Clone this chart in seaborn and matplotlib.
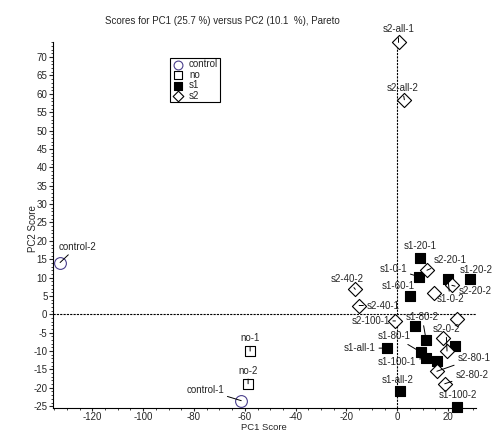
import matplotlib
matplotlib.use("Agg")
import matplotlib.pyplot as plt
import seaborn as sns
import pandas as pd
from matplotlib.ticker import MultipleLocator

# ---- data ----
control_names = ["control-1", "control-2"]
control_pc1 = [-61.4, -132.7]
control_pc2 = [-23.5, 14.1]

no_names = ["no-1", "no-2"]
no_pc1 = [-57.9, -58.7]
no_pc2 = [-10.0, -18.9]

s1_names = ["s1-20-1", "s1-0-1", "s1-20-2", "s1-0-2", "s1-60-1", "s1-40-1", "s1-80-2",
            "s1-40-2", "s1-all-1", "s1-80-1", "s1-100-1", "s1-60-2", "s1-all-2", "s1-100-2"]
s1_pc1 = [9.1, 8.7, 28.5, 20.0, 5.1, 7.1, 11.4, 22.8, -4.1, 9.3, 11.4, 15.6, 0.9, 23.7]
s1_pc2 = [15.3, 10.2, 9.5, 9.5, 4.9, -3.3, -7.1, -8.7, -9.2, -10.3, -11.9, -12.8, -20.9, -25.2]

s2_names = ["s2-all-1", "s2-all-2", "s2-20-1", "s2-20-2", "s2-0-1", "s2-40-2", "s2-40-1",
            "s2-100-1", "s2-60-1", "s2-60-2", "s2-0-2", "s2-80-1", "s2-80-2"]
s2_pc1 = [0.5, 2.8, 11.7, 21.5, 14.3, -16.5, -15.0, -0.7, 23.5, 18.2, 19.6, 15.6, 18.7]
s2_pc2 = [74.0, 58.4, 12.0, 7.9, 5.9, 6.8, 2.4, -1.8, -1.3, -6.5, -10.0, -15.5, -18.9]

groups = ["control", "no", "s1", "s2"]
title = "Scores for PC1 (25.7 %) versus PC2 (10.1  %), Pareto"

# label offsets (pixels) for annotated points; unlisted points get no label
label_offsets = {
    "control-2": (17, 16), "control-1": (-36, 11), "no-1": (0, 13), "no-2": (0, 13),
    "s2-all-1": (0, 13), "s2-all-2": (-2, 12), "s1-20-1": (0, 12), "s2-20-1": (23, 10),
    "s1-0-1": (-26, 8), "s1-20-2": (7, 9), "s1-0-2": (2, -20), "s2-20-2": (23, -6),
    "s1-60-1": (-12, 10), "s2-40-2": (-8, 10), "s2-40-1": (24, 0), "s2-100-1": (-25, 0),
    "s1-80-2": (-4, 23), "s2-0-2": (-1, 22), "s1-80-1": (-27, 16), "s1-all-1": (-27, 0),
    "s1-100-1": (-29, -4), "s2-80-1": (37, 13), "s2-80-2": (27, 9), "s1-all-2": (-2, 11),
    "s1-100-2": (0, 12),
}

df = pd.concat([
    pd.DataFrame({"name": control_names, "PC1": control_pc1, "PC2": control_pc2, "group": "control"}),
    pd.DataFrame({"name": no_names, "PC1": no_pc1, "PC2": no_pc2, "group": "no"}),
    pd.DataFrame({"name": s1_names, "PC1": s1_pc1, "PC2": s1_pc2, "group": "s1"}),
    pd.DataFrame({"name": s2_names, "PC1": s2_pc1, "PC2": s2_pc2, "group": "s2"}),
], ignore_index=True)

sns.set_style("ticks")
plt.rcParams["font.family"] = ["Liberation Sans", "DejaVu Sans"]
plt.rcParams["axes.unicode_minus"] = False

fig = plt.figure(figsize=(4.98, 4.32), dpi=100)
ax = fig.add_axes([0.1064, 0.0555, 0.8494, 0.848])

styles = {
    "control": dict(marker="o", s=72, facecolor="white", edgecolor="#4a3f8c"),
    "no": dict(marker="s", s=50, facecolor="white", edgecolor="black"),
    "s1": dict(marker="s", s=55, facecolor="black", edgecolor="black"),
    "s2": dict(marker="D", s=52, facecolor="white", edgecolor="black"),
}

ax.axhline(0, color="black", lw=0.8, ls=(0, (2, 1)), zorder=1)
ax.axvline(0, color="black", lw=0.8, ls=(0, (2, 1)), zorder=1)

for g in groups:
    st = styles[g]
    sub = df[df["group"] == g]
    sns.scatterplot(data=sub, x="PC1", y="PC2", ax=ax, marker=st["marker"], s=st["s"],
                    color=st["facecolor"], edgecolor=st["edgecolor"], linewidth=0.8,
                    label=g, clip_on=False, zorder=3)

for _, r in df.iterrows():
    if r["name"] in label_offsets:
        dx, dy = label_offsets[r["name"]]
        ax.annotate(r["name"], xy=(r["PC1"], r["PC2"]), xytext=(dx, dy),
                    textcoords="offset pixels", ha="center", va="center", fontsize=7,
                    arrowprops=dict(arrowstyle="-", color="black", lw=0.7,
                                    shrinkA=0, shrinkB=0), zorder=4)

ax.set_xlim(-135.5, 31)
ax.set_ylim(-25.5, 74.2)
ax.xaxis.set_major_locator(MultipleLocator(20))
ax.xaxis.set_minor_locator(MultipleLocator(5))
ax.yaxis.set_major_locator(MultipleLocator(5))
ax.yaxis.set_minor_locator(MultipleLocator(1))
ax.tick_params(axis="both", which="major", labelsize=7, length=3, width=0.8, pad=1)
ax.tick_params(axis="x", which="major", pad=0.5, length=2.5)
ax.tick_params(axis="both", which="minor", length=1.5, width=0.6)
sns.despine(ax=ax)
for sp in ["left", "bottom"]:
    ax.spines[sp].set_linewidth(0.8)
    ax.spines[sp].set_color("black")
ax.set_xlabel("")
ax.set_ylabel("")

leg = ax.legend(loc="upper left", bbox_to_anchor=(0.2766, 0.9557), borderaxespad=0,
                fontsize=7, frameon=True, fancybox=False, edgecolor="black",
                handletextpad=0.5, labelspacing=0.05, borderpad=0.15, handlelength=1.3,
                markerscale=0.75)
leg.get_frame().set_linewidth(0.8)
leg.get_frame().set_alpha(1)

fig.text(0.446, 0.952, title, ha="center", va="center", fontsize=7)
fig.text(0.066, 0.47, "PC2 Score", rotation=90, ha="center", va="center", fontsize=7)
fig.text(0.530, 0.001, "PC1 Score", ha="center", va="bottom", fontsize=6.8)

fig.savefig("out.png", dpi=100)
